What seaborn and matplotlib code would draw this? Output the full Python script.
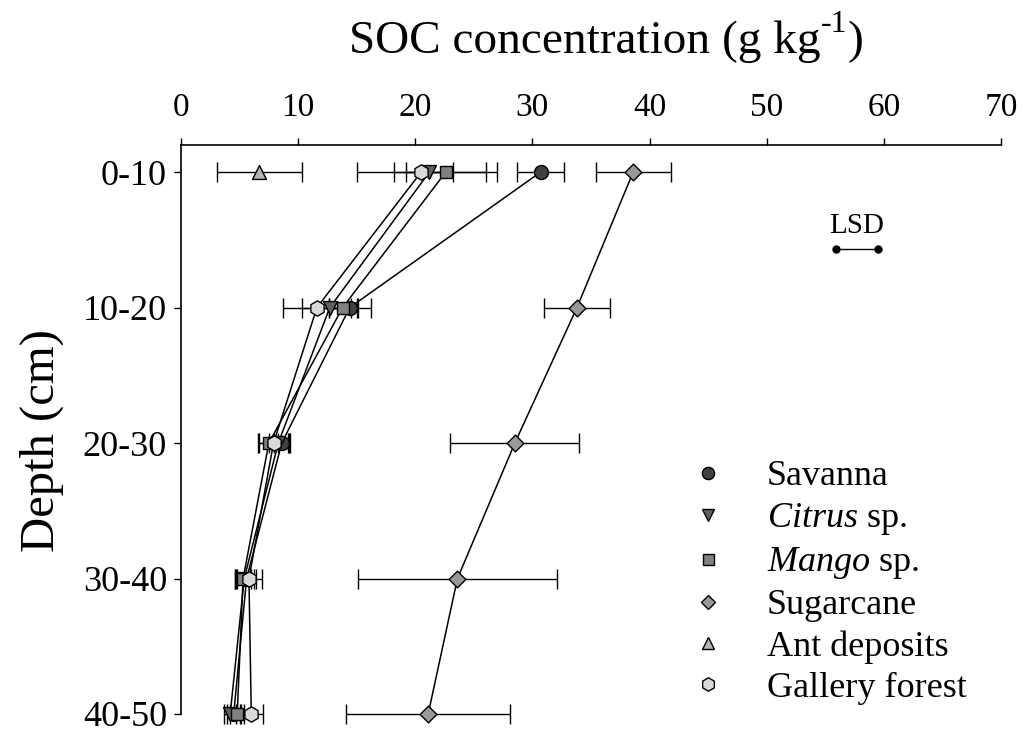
import numpy as np
import pandas as pd
import matplotlib
matplotlib.use("Agg")
import matplotlib.pyplot as plt
from matplotlib.lines import Line2D
from matplotlib.transforms import offset_copy
import seaborn as sns

# Soil depth layers (cm) and their mid-depths used as plotting positions
depth_labels = ["0-10", "10-20", "20-30", "30-40", "40-50"]
depth_mid = [5, 15, 25, 35, 45]

# SOC concentration (g kg-1): means and error half-widths per land use
savanna = [30.7, 14.4, 8.6, 5.6, 4.5]
savanna_err = [2.0, 1.8, 0.7, 0.8, 0.6]
citrus = [21.2, 12.7, 8.3, 5.4, 4.2]
citrus_err = [2.0, 2.4, 0.8, 0.8, 0.5]
mango = [22.6, 13.8, 7.5, 5.3, 4.8]
mango_err = [4.4, 1.2, 0.8, 0.7, 0.6]
sugarcane = [38.6, 33.8, 28.5, 23.6, 21.1]
sugarcane_err = [3.2, 2.8, 5.5, 8.5, 7.0]
ant = [6.7]
ant_err = [3.6]
gallery = [20.5, 11.6, 7.9, 5.8, 6.0]
gallery_err = [5.5, 2.9, 1.3, 1.1, 1.0]

# Least significant difference bar
lsd_x = [55.9, 59.5]
lsd_depth = 10.7

x_ticks = [0, 10, 20, 30, 40, 50, 60, 70]

series = [
    ("Savanna", savanna, savanna_err, "o", "#404040", 10),
    (r"$\mathit{Citrus}$ sp.", citrus, citrus_err, "v", "#5f5f5f", 10),
    (r"$\mathit{Mango}$ sp.", mango, mango_err, "s", "#808080", 9),
    ("Sugarcane", sugarcane, sugarcane_err, "D", "#999999", 8.5),
    ("Ant deposits", ant, ant_err, "^", "#b3b3b3", 10),
    ("Gallery forest", gallery, gallery_err, "h", "#d9d9d9", 11),
]

sns.set_theme(style="white")
plt.rcParams["font.family"] = ["Liberation Serif", "DejaVu Serif"]
plt.rcParams["mathtext.fontset"] = "custom"
plt.rcParams["mathtext.rm"] = "Liberation Serif"
plt.rcParams["mathtext.it"] = "Liberation Serif:italic"
plt.rcParams["text.color"] = "black"

fig = plt.figure(figsize=(10.25, 7.36), dpi=100)
ax = fig.add_axes([181 / 1025, 1 - 714 / 736, 820 / 1025, (714 - 145) / 736])

handles = []
for name, vals, errs, mk, col, ms in series:
    y = depth_mid[: len(vals)]
    df = pd.DataFrame({"soc": vals, "depth": y})
    if len(vals) > 1:
        sns.lineplot(data=df, x="soc", y="depth", sort=False, ax=ax,
                     color="black", lw=1.1, zorder=2, estimator=None)
    ax.errorbar(vals, y, xerr=errs, fmt="none", ecolor="black",
                elinewidth=1.0, capsize=7, capthick=1.0, zorder=3,
                clip_on=False)
    sns.scatterplot(data=df, x="soc", y="depth", ax=ax, marker=mk,
                    s=ms ** 2, color=col, edgecolor="black", linewidth=1.0,
                    zorder=4, clip_on=False, legend=False)
    handles.append(Line2D([], [], ls="none", marker=mk, markersize=ms * 0.88,
                          markerfacecolor=col, markeredgecolor="black",
                          markeredgewidth=1.0, label=name))

# LSD indicator
ax.plot(lsd_x, [lsd_depth, lsd_depth], color="black", lw=1.0,
        marker="o", markersize=5)
ax.text(np.mean(lsd_x), lsd_depth - 1.18, "LSD", ha="center", va="baseline",
        fontsize=21)

ax.set_xlim(0, 70)
ax.set_ylim(45, 3)
ax.set_xticks(x_ticks)
ax.set_yticks(depth_mid)
ax.set_yticklabels(depth_labels)
ax.xaxis.tick_top()
ax.set_xlabel("")
ax.set_ylabel("")
ax.tick_params(axis="both", direction="out", length=5, width=1.0,
               colors="black")
ax.tick_params(axis="x", top=True, bottom=False, labelsize=24, pad=11)
ax.tick_params(axis="y", left=True, labelsize=26, pad=5)

for side in ["right", "bottom"]:
    ax.spines[side].set_visible(False)
for side in ["top", "left"]:
    ax.spines[side].set_color("black")
    ax.spines[side].set_linewidth(1.2)

# Axis title with a hyphenated superscript unit
t_main = fig.text(349 / 1025, 1 - 53 / 736, "SOC concentration (g kg",
                  ha="left", va="baseline", fontsize=34)
fig.canvas.draw()
bb = t_main.get_window_extent()
sup_tr = offset_copy(fig.transFigure, fig=fig, x=bb.width * 72 / fig.dpi,
                     y=15, units="points")
t_sup = fig.text(349 / 1025, 1 - 53 / 736, "-1", ha="left", va="baseline",
                 fontsize=23, transform=sup_tr)
fig.canvas.draw()
bb2 = t_sup.get_window_extent()
close_tr = offset_copy(fig.transFigure, fig=fig,
                       x=(bb.width + bb2.width) * 72 / fig.dpi, y=0,
                       units="points")
fig.text(349 / 1025, 1 - 53 / 736, ")", ha="left", va="baseline",
         fontsize=34, transform=close_tr)

fig.text(42 / 1025, 1 - 441 / 736, "Depth (cm)", ha="center", va="center",
         rotation=90, fontsize=35)

ax.legend(handles=handles, loc="upper left", frameon=False,
          bbox_to_anchor=(690 / 1025, 1 - 460 / 736),
          bbox_transform=fig.transFigure, fontsize=26,
          handlelength=1.0, handletextpad=1.13, labelspacing=0.22,
          borderaxespad=0, borderpad=0)

fig.savefig("out.png", dpi=100)
